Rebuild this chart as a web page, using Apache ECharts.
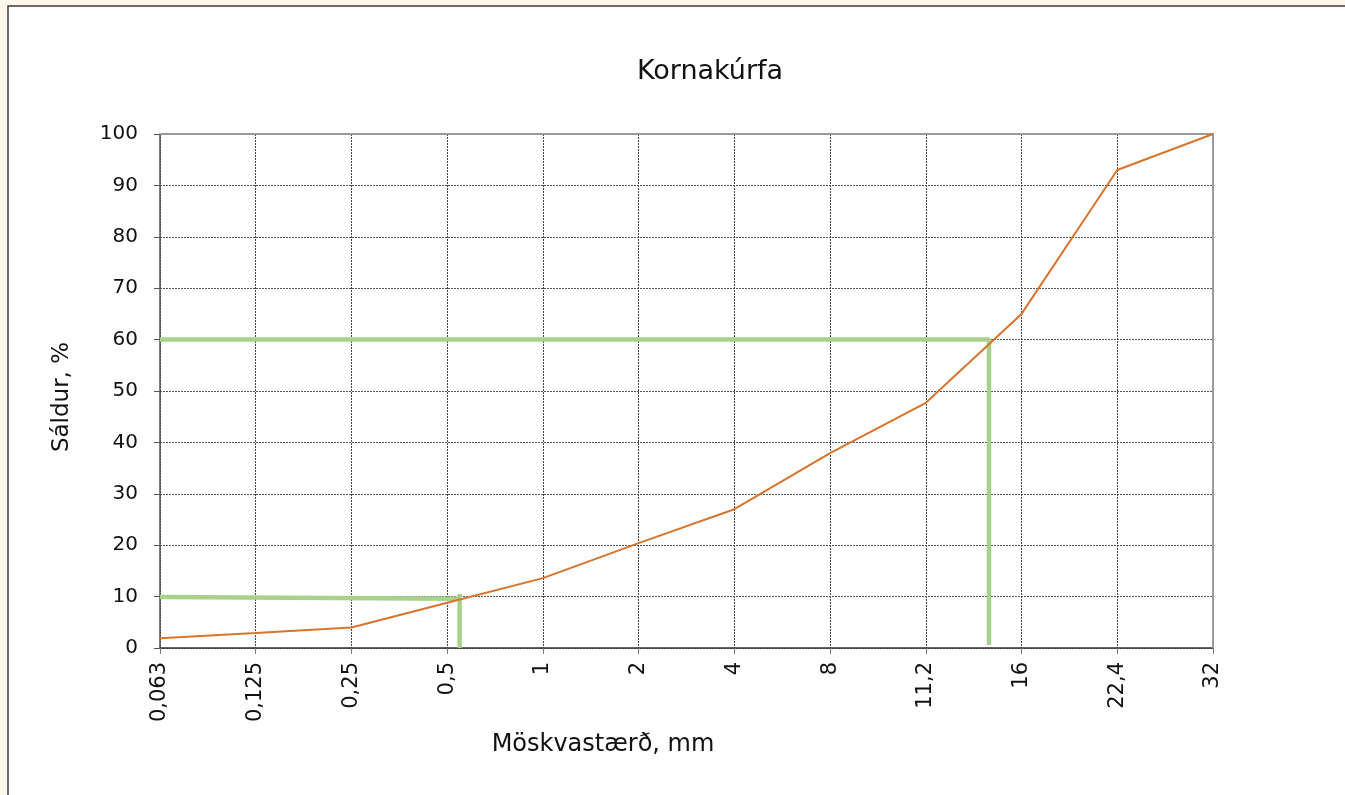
<!DOCTYPE html>
<html>
<head>
<meta charset="utf-8">
<script src="https://cdn.jsdelivr.net/npm/echarts@6/dist/echarts.min.js"></script>
<style>
html,body{margin:0;padding:0;background:#fdf8ea;}
#c{width:1345px;height:795px;}
</style>
</head>
<body>
<div id="c"></div>
<script>
const categories = ['0,063','0,125','0,25','0,5','1','2','4','8','11,2','16','22,4','32'];
const passing = [1.9, 2.9, 4.0, 8.8, 13.6, 20.4, 27.0, 37.9, 47.7, 65.0, 93.0, 100.0];
// helper lines (x as category position, y in %)
const guide60 = [[0, 60], [8.66, 60], [8.66, 0.6]];
const guide10 = [[0, 9.9], [3.13, 9.6]];
const guide10v = [[3.13, 10.5], [3.13, 0]];
const yTicks = {min: 0, max: 100, interval: 10};

const FONT = '"DejaVu Sans", sans-serif';
const G = {left: 160, top: 134, width: 1053, height: 514};
const chart = echarts.init(document.getElementById('c'));
chart.setOption({
  backgroundColor: '#fdf8ea',
  animation: false,
  textStyle: {fontFamily: FONT},
  graphic: [
    {type: 'rect', z: -10, shape: {x: 8, y: 6, width: 1400, height: 850},
     style: {fill: '#ffffff', stroke: '#3a3a3a', lineWidth: 1.5}},
    {type: 'polyline', z: 1, silent: true,
     shape: {points: [[G.left, G.top], [G.left + G.width, G.top], [G.left + G.width, G.top + G.height]]},
     style: {fill: null, stroke: '#9a9a9a', lineWidth: 2}},
    {type: 'text', x: 710, y: 72, z: 10,
     style: {text: 'Kornakúrfa', font: '400 27px ' + FONT, fill: '#111', align: 'center', verticalAlign: 'middle'}},
    {type: 'text', x: 603, y: 745, z: 10,
     style: {text: 'Möskvastærð, mm', font: '400 24px ' + FONT, fill: '#111', align: 'center', verticalAlign: 'middle'}},
    {type: 'text', x: 62, y: 397, rotation: Math.PI / 2, z: 10,
     style: {text: 'Sáldur, %', font: '400 23px ' + FONT, fill: '#111', align: 'center', verticalAlign: 'middle'}}
  ],
  grid: {left: G.left, top: G.top, width: G.width, height: G.height, show: false},
  xAxis: {
    type: 'value', min: 0, max: categories.length - 1, interval: 1,
    axisLine: {show: true, lineStyle: {color: '#333', width: 1.5}},
    axisTick: {show: true, length: 6, lineStyle: {color: '#777'}},
    axisLabel: {rotate: 90, margin: 14, fontSize: 21, color: '#111', fontFamily: FONT,
      formatter: v => categories[Math.round(v)] || ''},
    splitLine: {show: true, lineStyle: {color: '#444', type: [2, 1], width: 1}}
  },
  yAxis: {
    type: 'value', min: yTicks.min, max: yTicks.max, interval: yTicks.interval,
    axisLine: {show: true, lineStyle: {color: '#555', width: 1.5}},
    axisTick: {show: true, length: 6, lineStyle: {color: '#555'}},
    axisLabel: {margin: 22, fontSize: 20, color: '#111', fontFamily: FONT},
    splitLine: {show: true, lineStyle: {color: '#555', type: [2, 1], width: 1}}
  },
  series: [
    {type: 'line', data: guide60, symbol: 'none', z: 3,
     lineStyle: {color: '#a9d18e', width: 4.5}},
    {type: 'line', data: guide10, symbol: 'none', z: 3,
     lineStyle: {color: '#a9d18e', width: 4.5}},
    {type: 'line', data: guide10v, symbol: 'none', z: 3,
     lineStyle: {color: '#a9d18e', width: 4.5}},
    {type: 'line', data: passing.map((v, i) => [i, v]), symbol: 'none', z: 4,
     lineStyle: {color: '#d9742c', width: 2}}
  ]
});
</script>
</body>
</html>
